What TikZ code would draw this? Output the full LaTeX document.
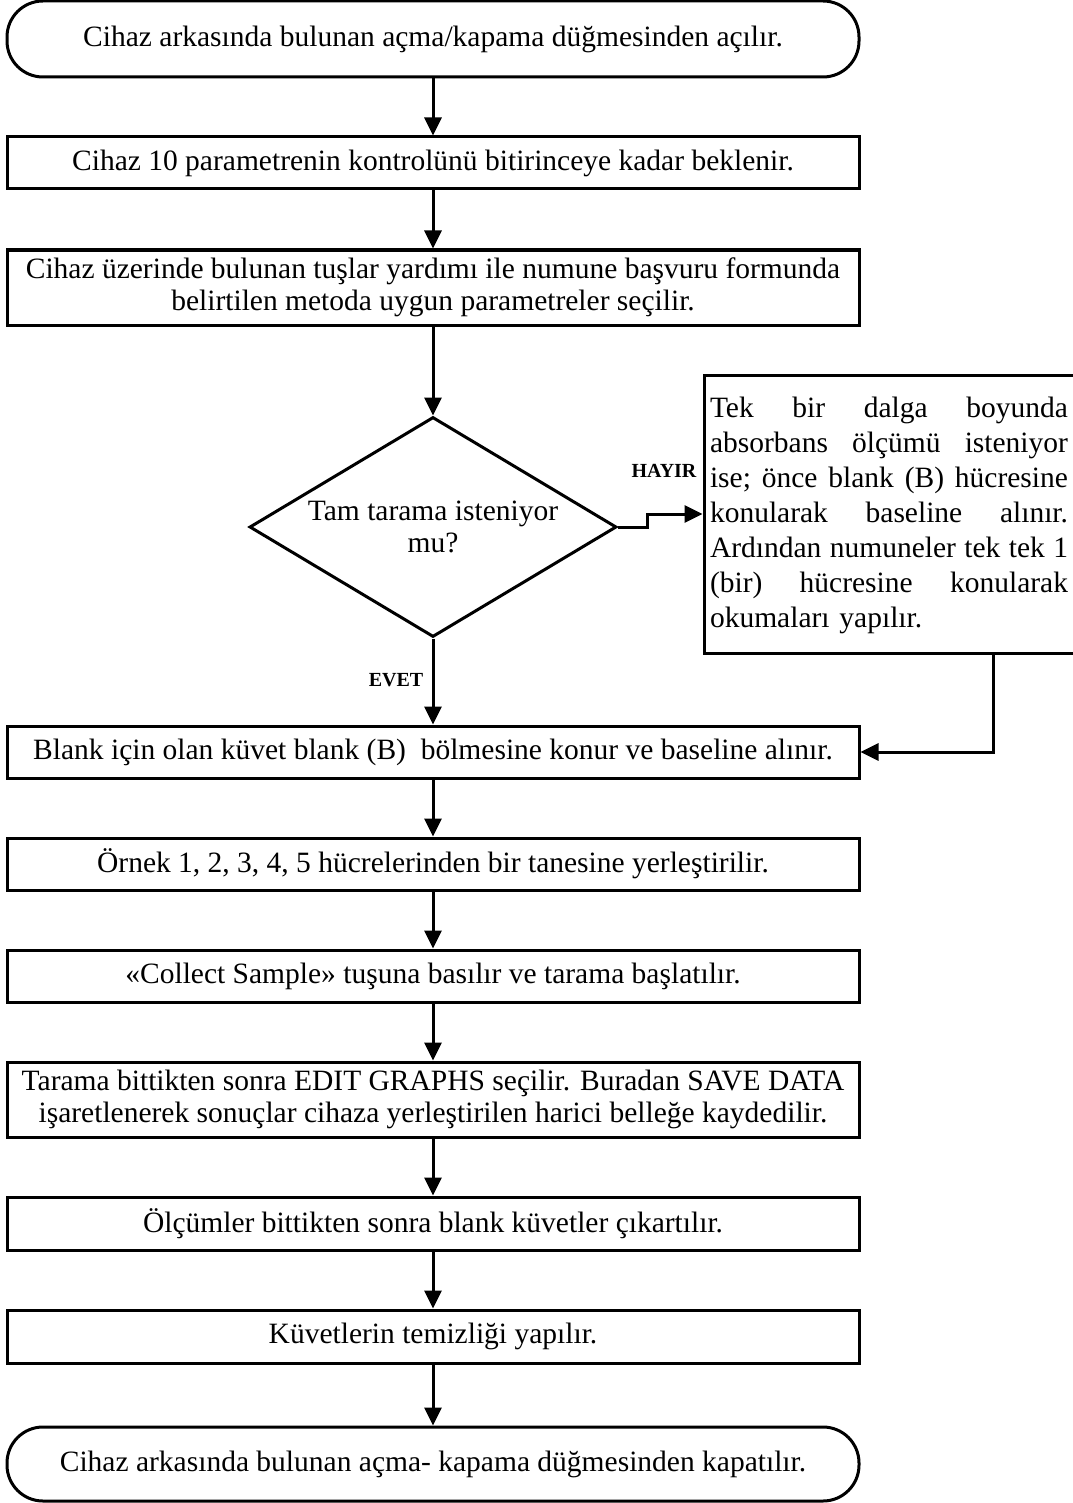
\documentclass[tikz,border=0pt]{standalone}
\usepackage{fontspec}
\setmainfont{Liberation Serif}
\usetikzlibrary{arrows.meta,shapes.geometric}
\begin{document}
\begin{tikzpicture}[x=0.5pt,y=-0.5pt,
  every node/.style={inner sep=0pt},
  txt/.style={font=\fontsize{14.75pt}{16pt}\selectfont, align=center},
  procbox/.style={txt, draw, line width=1.5pt, minimum width=426pt},
  termbox/.style={procbox, rounded corners=18pt},
  decbox/.style={draw, line width=1.5pt, diamond, minimum width=183.5pt, minimum height=110pt},
  lbl/.style={font=\fontsize{10pt}{12pt}\selectfont\bfseries},
  arr/.style={line width=1.5pt, -{Triangle[length=9pt,width=8.5pt]}},
  conn/.style={line width=1.5pt}
]
\useasboundingbox (0,0) rectangle (1072,1503);

\node[termbox, minimum height=38pt] (start) at (433,39) {Cihaz arkasında bulunan açma/kapama düğmesinden açılır.};
\node[procbox, minimum height=26pt] (b1) at (433,163) {Cihaz 10 parametrenin kontrolünü bitirinceye kadar beklenir.};
\node[procbox, minimum height=37.5pt] (b2) at (433,287.5) {Cihaz üzerinde bulunan tuşlar yardımı ile numune başvuru formunda\\belirtilen metoda uygun parametreler seçilir.};
\node[decbox] (dec) at (433,527) {};
\node[txt] (dectext) at (433,527) {Tam tarama isteniyor\\mu?};
\node[draw, line width=1.5pt, minimum width=185pt, minimum height=139pt] (rb) at (889,514) {};
\node[font=\fontsize{14.75pt}{17.5pt}\selectfont, text width=179pt, align=left] (rbtext) at (889,515) {Tek\hfill bir\hfill dalga\hfill boyunda\\
absorbans\hfill ölçümü\hfill isteniyor\\
ise;\hfill önce\hfill blank\hfill (B)\hfill hücresine\\
konularak\hfill baseline\hfill alınır.\\
Ardından\hfill numuneler\hfill tek\hfill tek\hfill 1\\
(bir)\hfill hücresine\hfill konularak\\
okumaları yapılır.};
\node[lbl] (hayir) at (664,471) {HAYIR};
\node[lbl] (evet) at (396,680) {EVET};
\node[procbox, minimum height=26pt] (b3) at (433,752) {Blank için olan küvet blank (B)\ \ bölmesine konur ve baseline alınır.};
\node[procbox, minimum height=26pt] (b4) at (433,864) {Örnek 1, 2, 3, 4, 5 hücrelerinden bir tanesine yerleştirilir.};
\node[procbox, minimum height=26pt] (b5) at (433,976) {«Collect Sample» tuşuna basılır ve tarama başlatılır.};
\node[procbox, minimum height=37.5pt] (b6) at (433,1099.5) {Tarama bittikten sonra EDIT GRAPHS seçilir. Buradan SAVE DATA\\işaretlenerek sonuçlar cihaza yerleştirilen harici belleğe kaydedilir.};
\node[procbox, minimum height=26.5pt] (b7) at (433,1223.5) {Ölçümler bittikten sonra blank küvetler çıkartılır.};
\node[procbox, minimum height=26.5pt] (b8) at (433,1336.5) {Küvetlerin temizliği yapılır.};
\node[termbox, minimum height=37pt] (stop) at (433,1464) {Cihaz arkasında bulunan açma- kapama düğmesinden kapatılır.};

\draw[arr] (start) -- (b1);
\draw[arr] (b1) -- (b2);
\draw[arr] (b2) -- (dec.north);
\draw[arr] (dec.south) -- (b3);
\draw[arr] (dec.east) -- ++(29,0) |- (rb.west);
\draw[arr] (rb.south) ++(104,0) |- (b3.east);
\draw[arr] (b3) -- (b4);
\draw[arr] (b4) -- (b5);
\draw[arr] (b5) -- (b6);
\draw[arr] (b6) -- (b7);
\draw[arr] (b7) -- (b8);
\draw[arr] (b8) -- (stop);
\end{tikzpicture}
\end{document}
